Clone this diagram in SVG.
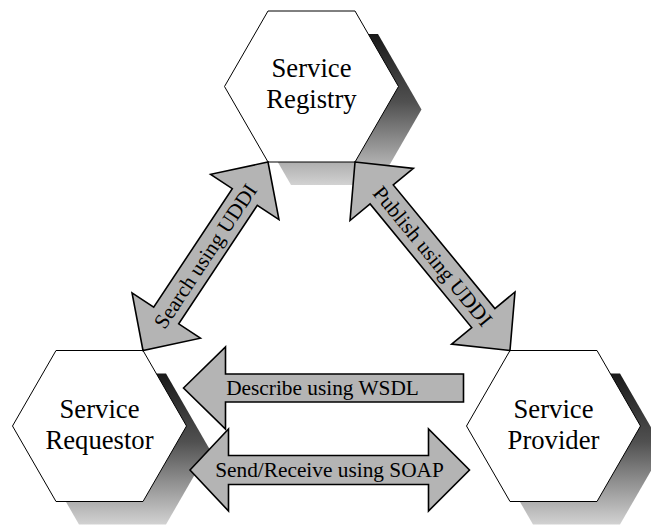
<svg xmlns="http://www.w3.org/2000/svg" width="651" height="525" viewBox="0 0 651 525">
  <style>
    .hex { fill: #ffffff; stroke: #000000; stroke-width: 1; }
    .shadow { fill: url(#shadeGrad); }
    .arrow { fill: #b4b4b4; stroke: #000000; stroke-width: 1.6; stroke-linejoin: miter; }
    .node-label { font-family: "Liberation Serif", "Times New Roman", serif; font-size: 26.67px; fill: #000000; text-anchor: middle; }
    .arrow-label { font-family: "Liberation Serif", "Times New Roman", serif; font-size: 21.33px; fill: #000000; text-anchor: middle; }
  </style>
  <defs>
    <linearGradient id="shadeGrad" x1="0" y1="0" x2="0" y2="1">
      <stop offset="0" stop-color="#1a1a1a"/>
      <stop offset="0.45" stop-color="#505050"/>
      <stop offset="1" stop-color="#d2d2d2"/>
    </linearGradient>
    <!-- hexagon centred on the origin -->
    <polygon id="hexShape" points="-43.5,-75.5 43.5,-75.5 87,0 43.5,75.5 -43.5,75.5 -87,0"/>
  </defs>

  <rect x="0" y="0" width="651" height="525" fill="#ffffff"/>

  <!-- nodes -->
  <g id="service-registry">
    <use href="#hexShape" class="shadow" transform="translate(334.5,109.5)"/>
    <use href="#hexShape" class="hex" transform="translate(311.5,86.5)"/>
    <text class="node-label" x="311.5" y="77">Service</text>
    <text class="node-label" x="311.5" y="108">Registry</text>
  </g>

  <g id="service-requestor">
    <use href="#hexShape" class="shadow" transform="translate(122.5,449)"/>
    <use href="#hexShape" class="hex" transform="translate(99.5,426)"/>
    <text class="node-label" x="99.5" y="418">Service</text>
    <text class="node-label" x="99.5" y="449">Requestor</text>
  </g>

  <g id="service-provider">
    <use href="#hexShape" class="shadow" transform="translate(576.5,449)"/>
    <use href="#hexShape" class="hex" transform="translate(553.5,426)"/>
    <text class="node-label" x="553.5" y="418">Service</text>
    <text class="node-label" x="553.5" y="449">Provider</text>
  </g>

  <!-- connectors -->
  <g id="connectors">
    <g id="search-uddi" transform="translate(205.5,256.25) rotate(-56.45)">
      <polygon class="arrow" points="-113.1,0 -71.1,-41 -71.1,-15 71.1,-15 71.1,-41 113.1,0 71.1,41 71.1,15 -71.1,15 -71.1,41"/>
      <text class="arrow-label" x="0" y="7">Search using UDDI</text>
    </g>

    <g id="publish-uddi" transform="translate(432.5,256.25) rotate(50.57)">
      <polygon class="arrow" points="-122,0 -80,-41 -80,-15 80,-15 80,-41 122,0 80,41 80,15 -80,15 -80,41"/>
      <text class="arrow-label" x="0" y="7">Publish using UDDI</text>
    </g>

    <g id="describe-wsdl">
      <polygon class="arrow" points="183.5,388 225.5,347 225.5,374 463.5,374 463.5,402 225.5,402 225.5,429"/>
      <text class="arrow-label" x="322.5" y="395">Describe using WSDL</text>
    </g>

    <g id="send-receive-soap">
      <polygon class="arrow" points="190,470 228.5,429 228.5,455.5 428.5,455.5 428.5,429 469.5,470 428.5,511 428.5,484.5 228.5,484.5 228.5,511"/>
      <text class="arrow-label" x="329.5" y="477">Send/Receive using SOAP</text>
    </g>
  </g>
</svg>
